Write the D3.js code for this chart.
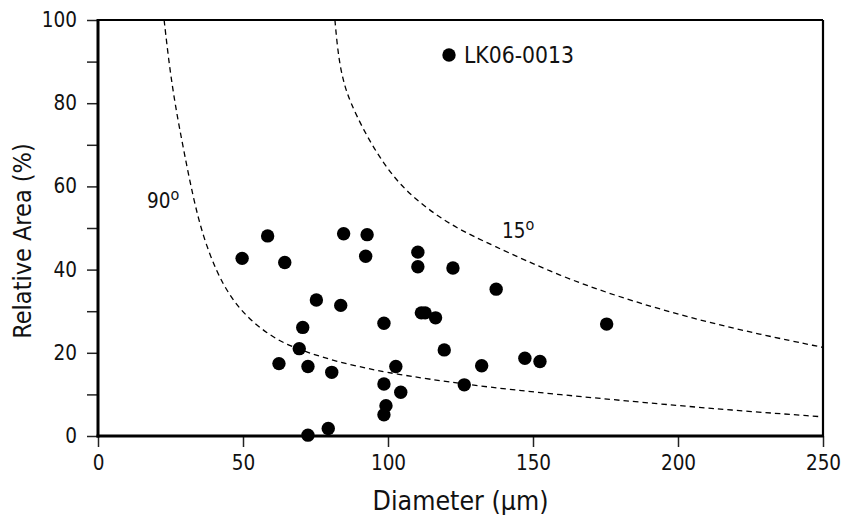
<!DOCTYPE html>
<html>
<head>
<meta charset="utf-8">
<script src="https://cdn.jsdelivr.net/npm/d3@7/dist/d3.min.js"></script>
<style>
  html, body { margin: 0; padding: 0; background: #fff; }
  svg { display: block; font-family: "DejaVu Sans Condensed", "DejaVu Sans", sans-serif; }
</style>
</head>
<body>
<svg id="chart" width="842" height="515"></svg>
<script>
// ---- data ----
const diameter = [58.5, 49.7, 64.4, 84.7, 92.8, 92.3, 110.3, 110.3, 122.4, 137.3,
                  75.3, 83.7, 70.6, 98.6, 111.5, 112.8, 116.4, 69.4, 62.4, 72.4,
                  80.6, 102.7, 119.4, 132.3, 147.2, 152.4, 175.4, 98.6, 104.4, 126.3,
                  99.3, 98.6, 79.4, 72.4];
const relativeArea = [48.1, 42.7, 41.7, 48.6, 48.4, 43.2, 44.2, 40.7, 40.4, 35.3,
                      32.7, 31.4, 26.1, 27.1, 29.6, 29.6, 28.4, 21.0, 17.4, 16.7,
                      15.3, 16.7, 20.7, 16.9, 18.7, 17.9, 26.9, 12.5, 10.5, 12.3,
                      7.3, 5.1, 1.8, 0.2];

// reference curves
const curve90x = [22.8, 24.5, 26.6, 29.4, 32.9, 36.3, 40.9, 45.5, 51.2, 58.2, 65.1, 73.1, 82.3, 92.6, 100.7, 127, 159.3, 193.8, 216.8, 250];
const curve90y = [100, 89.5, 79.6, 69.2, 57.0, 47.8, 39.4, 33.6, 28.7, 24.7, 21.9, 19.9, 17.9, 16.3, 15.1, 12.3, 9.9, 7.7, 6.3, 4.6];
const curve15x = [81.7, 82.4, 83.4, 84.9, 86.9, 91.5, 97.2, 104.1, 113.3, 123.7, 135.2, 159.3, 182.3, 205.3, 228.3, 250];
const curve15y = [100, 94.5, 89.2, 84.5, 80.4, 73.6, 66.8, 60.3, 54.7, 49.9, 46.1, 38.4, 32.8, 28.2, 24.4, 21.3];

const xTicks = [0, 50, 100, 150, 200, 250];
const yTicks = [0, 10, 20, 30, 40, 50, 60, 70, 80, 90, 100];
const yLabelled = [0, 20, 40, 60, 80, 100];
const legendLabel = "LK06-0013";
const xTitle = "Diameter (\u03bcm)";
const yTitle = "Relative Area (%)";

// ---- layout ----
const W = 842, H = 515;
const m = { left: 98, right: 19, top: 20, bottom: 79 };
const svg = d3.select("#chart");
svg.append("rect").attr("width", W).attr("height", H).attr("fill", "#fff");

const x = d3.scaleLinear().domain([0, 250]).range([m.left, W - m.right]);
const y = d3.scaleLinear().domain([0, 100]).range([H - m.bottom, m.top]);

// frame (top & right)
svg.append("line").attr("x1", x(0)).attr("x2", x(250)).attr("y1", y(100)).attr("y2", y(100))
  .attr("stroke", "#000").attr("stroke-width", 2.2);
svg.append("line").attr("x1", x(250)).attr("x2", x(250)).attr("y1", y(100)).attr("y2", y(0))
  .attr("stroke", "#000").attr("stroke-width", 2.2);

// curves
const line = d3.line().x(d => x(d[0])).y(d => y(d[1])).curve(d3.curveBasis);
const c90 = curve90x.map((v, i) => [v, curve90y[i]]);
const c15 = curve15x.map((v, i) => [v, curve15y[i]]);
[c90, c15].forEach(c => {
  svg.append("path").attr("d", line(c)).attr("fill", "none")
    .attr("stroke", "#000").attr("stroke-width", 1.3).attr("stroke-dasharray", "5.5,4");
});

// axes
const xAxis = d3.axisBottom(x).tickValues(xTicks).tickSize(11).tickPadding(8).tickFormat(d3.format("d"));
const yAxis = d3.axisLeft(y).tickValues(yTicks).tickSize(11).tickPadding(10)
  .tickFormat(d => yLabelled.includes(d) ? d : "");

const gx = svg.append("g").attr("transform", `translate(0,${y(0)})`).call(xAxis);
const gy = svg.append("g").attr("transform", `translate(${x(0)},0)`).call(yAxis);
[gx, gy].forEach(g => {
  g.select(".domain").remove();
  g.selectAll(".tick line").attr("stroke", "#222").attr("stroke-width", 1.5);
  g.selectAll(".tick text").attr("fill", "#111").style("font-size", "20.5px")
    .style("font-family", '"DejaVu Sans Condensed", "DejaVu Sans", sans-serif');
});
// thick axis lines
svg.append("line").attr("x1", x(0)).attr("x2", x(0)).attr("y1", y(100) - 1).attr("y2", y(0) + 1.5)
  .attr("stroke", "#000").attr("stroke-width", 3);
svg.append("line").attr("x1", x(0) - 1.5).attr("x2", x(250) + 1).attr("y1", y(0)).attr("y2", y(0))
  .attr("stroke", "#000").attr("stroke-width", 3);

// points
svg.append("g").selectAll("circle").data(diameter).join("circle")
  .attr("cx", d => x(d)).attr("cy", (d, i) => y(relativeArea[i]))
  .attr("r", 6.7).attr("fill", "#000");

// curve labels
function degLabel(px, py, main) {
  const t = svg.append("text").attr("x", px).attr("y", py).attr("fill", "#111")
    .style("font-size", "20.5px");
  t.append("tspan").text(main);
  t.append("tspan").attr("dy", -8).style("font-size", "16px").text("o");
}
degLabel(147, 208, "90");
degLabel(502, 238, "15");

// legend
svg.append("circle").attr("cx", 449).attr("cy", 55).attr("r", 6.7).attr("fill", "#000");
svg.append("text").attr("x", 464).attr("y", 63).attr("fill", "#111")
  .style("font-size", "22.7px").text(legendLabel);

// axis titles
svg.append("text").attr("x", (x(0) + x(250)) / 2).attr("y", 510).attr("text-anchor", "middle")
  .attr("fill", "#111").style("font-size", "26.5px").text(xTitle);
svg.append("text").attr("transform", `translate(31,${(y(0) + y(100)) / 2 + 13}) rotate(-90)`)
  .attr("text-anchor", "middle").attr("fill", "#111").style("font-size", "25px").text(yTitle);
</script>
</body>
</html>
